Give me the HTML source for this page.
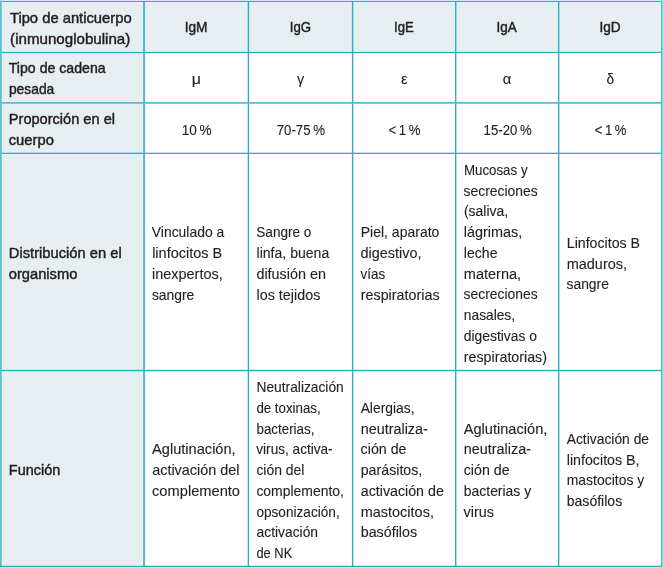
<!DOCTYPE html>
<html lang="es"><head><meta charset="utf-8"><title>Tipos de anticuerpos</title>
<style>html,body{margin:0;padding:0;background:#fff}svg{display:block}text{white-space:pre}</style>
</head><body>
<svg width="663" height="568" viewBox="0 0 663 568" font-family="'Liberation Sans', sans-serif" font-size="14.6" fill="#231f20">
<rect x="0" y="0" width="663" height="568" fill="#fff"/>
<rect x="2.5" y="2.8" width="658.1" height="49.70" fill="#e6eef2"/>
<rect x="2.5" y="2.8" width="139.6" height="562.3" fill="#e6eef2"/>
<rect x="1.8" y="2" width="140.9" height="564" fill="#e6eef2" opacity="0.45"/>
<rect x="1.8" y="2" width="661.2" height="1" fill="#e6eef2" opacity="0.45"/>
<rect x="143.05" y="1" width="2.0" height="566" fill="#4bbccc"/>
<rect x="247.70" y="1" width="1.4" height="566" fill="#2aaec2"/>
<rect x="351.90" y="1" width="1.4" height="566" fill="#2aaec2"/>
<rect x="455.00" y="1" width="1.4" height="566" fill="#2aaec2"/>
<rect x="557.95" y="1" width="1.4" height="566" fill="#2aaec2"/>
<rect x="0" y="51.90" width="663" height="1.2" fill="#2aaec2"/>
<rect x="0" y="102.05" width="663" height="1.7" fill="#50bece"/>
<rect x="0" y="152.70" width="663" height="1.3" fill="#2aaec2"/>
<rect x="0" y="369.82" width="663" height="1.35" fill="#2aaec2"/>
<rect x="0" y="0" width="663" height="1" fill="#dcf1f5"/>
<rect x="0" y="0.95" width="663" height="1.1" fill="#2aaec2"/>
<rect x="0" y="0.6" width="1.8" height="567.4" fill="#58c2d0"/>
<rect x="661" y="0.6" width="1" height="567" fill="#4bbccc"/>
<rect x="662" y="0.6" width="1" height="567.4" fill="#8fd5df"/>
<rect x="0" y="565.7" width="662" height="1.5" fill="#2aaec2"/>
<rect x="0" y="567.2" width="663" height="0.8" fill="#bfe6ec"/>
<text transform="translate(9.91 23.15) scale(1.0117 1)" stroke="#231f20" stroke-width="0.45">Tipo de anticuerpo</text>
<text transform="translate(10.11 43.90) scale(1.0357 1)" stroke="#231f20" stroke-width="0.45">(inmunoglobulina)</text>
<text transform="translate(184.73 32.23) scale(0.9370 1)" stroke="#231f20" stroke-width="0.45">IgM</text>
<text transform="translate(289.73 32.23) scale(0.9055 1)" stroke="#231f20" stroke-width="0.45">IgG</text>
<text transform="translate(393.99 32.23) scale(0.8977 1)" stroke="#231f20" stroke-width="0.45">IgE</text>
<text transform="translate(496.44 32.23) scale(0.9247 1)" stroke="#231f20" stroke-width="0.45">IgA</text>
<text transform="translate(599.45 32.23) scale(0.9312 1)" stroke="#231f20" stroke-width="0.45">IgD</text>
<text transform="translate(8.77 73.42) scale(0.9679 1)" stroke="#231f20" stroke-width="0.45">Tipo de cadena</text>
<text transform="translate(8.90 94.17) scale(0.9477 1)" stroke="#231f20" stroke-width="0.45">pesada</text>
<text transform="translate(191.66 84.30) scale(1.0967 1)" stroke="#231f20" stroke-width="0.12">μ</text>
<text transform="translate(296.91 84.30) scale(0.9824 1)" stroke="#231f20" stroke-width="0.12">γ</text>
<text transform="translate(400.88 84.30) scale(0.9958 1)" stroke="#231f20" stroke-width="0.12">ε</text>
<text transform="translate(502.80 84.30) scale(1.0153 1)" stroke="#231f20" stroke-width="0.12">α</text>
<text transform="translate(606.53 84.30) scale(0.9443 1)" stroke="#231f20" stroke-width="0.12">δ</text>
<text transform="translate(8.83 124.15) scale(0.9998 1)" stroke="#231f20" stroke-width="0.45">Proporción en el</text>
<text transform="translate(8.73 144.90) scale(1.0115 1)" stroke="#231f20" stroke-width="0.45">cuerpo</text>
<text transform="translate(181.76 134.72) scale(0.9291 1)" stroke="#231f20" stroke-width="0.12">10 %</text>
<text transform="translate(276.67 134.72) scale(0.9070 1)" stroke="#231f20" stroke-width="0.12">70-75 %</text>
<text transform="translate(388.51 134.72) scale(0.9008 1)" stroke="#231f20" stroke-width="0.12">&lt; 1 %</text>
<text transform="translate(483.61 134.72) scale(0.9027 1)" stroke="#231f20" stroke-width="0.12">15-20 %</text>
<text transform="translate(594.66 134.72) scale(0.8961 1)" stroke="#231f20" stroke-width="0.12">&lt; 1 %</text>
<text transform="translate(8.82 257.85) scale(1.0083 1)" stroke="#231f20" stroke-width="0.45">Distribución en el</text>
<text transform="translate(8.74 278.60) scale(1.0073 1)" stroke="#231f20" stroke-width="0.45">organismo</text>
<text transform="translate(151.81 237.40) scale(0.9531 1)" stroke="#231f20" stroke-width="0.12">Vinculado a</text>
<text transform="translate(152.15 258.15) scale(0.9934 1)" stroke="#231f20" stroke-width="0.12">linfocitos B</text>
<text transform="translate(152.02 278.90) scale(0.9911 1)" stroke="#231f20" stroke-width="0.12">inexpertos,</text>
<text transform="translate(151.94 299.65) scale(0.9495 1)" stroke="#231f20" stroke-width="0.12">sangre</text>
<text transform="translate(256.30 237.40) scale(0.9293 1)" stroke="#231f20" stroke-width="0.12">Sangre o</text>
<text transform="translate(256.53 258.15) scale(0.9645 1)" stroke="#231f20" stroke-width="0.12">linfa, buena</text>
<text transform="translate(256.40 278.90) scale(0.9853 1)" stroke="#231f20" stroke-width="0.12">difusión en</text>
<text transform="translate(256.51 299.65) scale(0.9843 1)" stroke="#231f20" stroke-width="0.12">los tejidos</text>
<text transform="translate(360.73 237.40) scale(0.9600 1)" stroke="#231f20" stroke-width="0.12">Piel, aparato</text>
<text transform="translate(360.60 258.15) scale(0.9878 1)" stroke="#231f20" stroke-width="0.12">digestivo,</text>
<text transform="translate(360.50 278.90) scale(0.9195 1)" stroke="#231f20" stroke-width="0.12">vías</text>
<text transform="translate(360.71 299.65) scale(0.9829 1)" stroke="#231f20" stroke-width="0.12">respiratorias</text>
<text transform="translate(463.88 174.75) scale(0.9129 1)" stroke="#231f20" stroke-width="0.12">Mucosas y</text>
<text transform="translate(463.59 195.50) scale(0.9510 1)" stroke="#231f20" stroke-width="0.12">secreciones</text>
<text transform="translate(463.98 216.25) scale(0.9553 1)" stroke="#231f20" stroke-width="0.12">(saliva,</text>
<text transform="translate(463.81 237.00) scale(0.9863 1)" stroke="#231f20" stroke-width="0.12">lágrimas,</text>
<text transform="translate(463.83 257.75) scale(0.9652 1)" stroke="#231f20" stroke-width="0.12">leche</text>
<text transform="translate(463.80 278.50) scale(0.9954 1)" stroke="#231f20" stroke-width="0.12">materna,</text>
<text transform="translate(463.59 299.25) scale(0.9510 1)" stroke="#231f20" stroke-width="0.12">secreciones</text>
<text transform="translate(463.85 320.00) scale(0.9428 1)" stroke="#231f20" stroke-width="0.12">nasales,</text>
<text transform="translate(463.72 340.75) scale(0.9513 1)" stroke="#231f20" stroke-width="0.12">digestivas o</text>
<text transform="translate(463.82 361.50) scale(0.9766 1)" stroke="#231f20" stroke-width="0.12">respiratorias)</text>
<text transform="translate(566.76 247.78) scale(0.9724 1)" stroke="#231f20" stroke-width="0.12">Linfocitos B</text>
<text transform="translate(566.75 268.53) scale(0.9915 1)" stroke="#231f20" stroke-width="0.12">maduros,</text>
<text transform="translate(566.54 289.28) scale(0.9495 1)" stroke="#231f20" stroke-width="0.12">sangre</text>
<text transform="translate(8.84 474.73) scale(0.9897 1)" stroke="#231f20" stroke-width="0.45">Función</text>
<text transform="translate(152.09 454.33) scale(1.0001 1)" stroke="#231f20" stroke-width="0.12">Aglutinación,</text>
<text transform="translate(152.18 475.08) scale(0.9868 1)" stroke="#231f20" stroke-width="0.12">activación del</text>
<text transform="translate(152.04 495.83) scale(1.0043 1)" stroke="#231f20" stroke-width="0.12">complemento</text>
<text transform="translate(256.50 392.08) scale(0.9431 1)" stroke="#231f20" stroke-width="0.12">Neutralización</text>
<text transform="translate(256.40 412.83) scale(0.9106 1)" stroke="#231f20" stroke-width="0.12">de toxinas,</text>
<text transform="translate(256.50 433.58) scale(0.9150 1)" stroke="#231f20" stroke-width="0.12">bacterias,</text>
<text transform="translate(256.29 454.33) scale(0.9317 1)" stroke="#231f20" stroke-width="0.12">virus, activa-</text>
<text transform="translate(256.39 475.08) scale(0.9551 1)" stroke="#231f20" stroke-width="0.12">ción del</text>
<text transform="translate(256.38 495.83) scale(0.9550 1)" stroke="#231f20" stroke-width="0.12">complemento,</text>
<text transform="translate(256.40 516.58) scale(0.9336 1)" stroke="#231f20" stroke-width="0.12">opsonización,</text>
<text transform="translate(256.52 537.33) scale(0.9480 1)" stroke="#231f20" stroke-width="0.12">activación</text>
<text transform="translate(256.43 558.08) scale(0.8853 1)" stroke="#231f20" stroke-width="0.12">de NK</text>
<text transform="translate(360.63 412.83) scale(0.9490 1)" stroke="#231f20" stroke-width="0.12">Alergias,</text>
<text transform="translate(360.71 433.58) scale(0.9856 1)" stroke="#231f20" stroke-width="0.12">neutraliza-</text>
<text transform="translate(360.61 454.33) scale(0.9747 1)" stroke="#231f20" stroke-width="0.12">ción de</text>
<text transform="translate(360.72 475.08) scale(0.9733 1)" stroke="#231f20" stroke-width="0.12">parásitos,</text>
<text transform="translate(360.74 495.83) scale(0.9761 1)" stroke="#231f20" stroke-width="0.12">activación de</text>
<text transform="translate(360.70 516.58) scale(0.9926 1)" stroke="#231f20" stroke-width="0.12">mastocitos,</text>
<text transform="translate(360.71 537.33) scale(0.9800 1)" stroke="#231f20" stroke-width="0.12">basófilos</text>
<text transform="translate(463.73 433.58) scale(1.0001 1)" stroke="#231f20" stroke-width="0.12">Aglutinación,</text>
<text transform="translate(463.81 454.33) scale(0.9856 1)" stroke="#231f20" stroke-width="0.12">neutraliza-</text>
<text transform="translate(463.71 475.08) scale(0.9747 1)" stroke="#231f20" stroke-width="0.12">ción de</text>
<text transform="translate(463.84 495.83) scale(0.9538 1)" stroke="#231f20" stroke-width="0.12">bacterias y</text>
<text transform="translate(463.59 516.58) scale(0.9872 1)" stroke="#231f20" stroke-width="0.12">virus</text>
<text transform="translate(566.68 443.95) scale(0.9496 1)" stroke="#231f20" stroke-width="0.12">Activación de</text>
<text transform="translate(566.75 464.70) scale(0.9759 1)" stroke="#231f20" stroke-width="0.12">linfocitos B,</text>
<text transform="translate(566.77 485.45) scale(0.9544 1)" stroke="#231f20" stroke-width="0.12">mastocitos y</text>
<text transform="translate(566.76 506.20) scale(0.9624 1)" stroke="#231f20" stroke-width="0.12">basófilos</text>
</svg>
</body></html>
